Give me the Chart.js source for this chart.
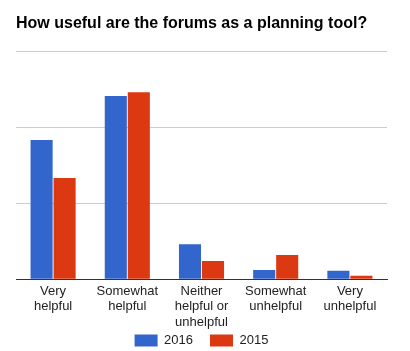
<!DOCTYPE html>
<html>
<head>
<meta charset="utf-8">
<script src="https://cdn.jsdelivr.net/npm/chart.js@4"></script>
<style>
html,body{margin:0;padding:0;background:#fff;}
#wrap{width:410px;height:351px;}
</style>
</head>
<body>
<div id="wrap"><canvas id="c" width="410" height="351"></canvas></div>
<script>
const categories = [["Very","helpful"],["Somewhat","helpful"],["Neither","helpful or","unhelpful"],["Somewhat","unhelpful"],["Very","unhelpful"]];
const series2016 = [18.3, 24.1, 4.6, 1.2, 1.1];
const series2015 = [13.3, 24.6, 2.4, 3.2, 0.45];
const yTicks = [0, 10, 20, 30];

const compactLegend = {
  id: 'compactLegend',
  afterInit(chart) {
    const lg = chart.legend;
    if (!lg) return;
    const origFit = lg.fit.bind(lg);
    const origDraw = lg.draw.bind(lg);
    lg.fit = function () { origFit(); this.height = 17; };
    lg.draw = function () {
      const t = this.top;
      this.top = t - this.options.labels.padding;
      origDraw();
      this.top = t;
    };
  }
};

new Chart(document.getElementById('c'), {
  type: 'bar',
  data: {
    labels: categories,
    datasets: [
      {label: '2016', data: series2016, backgroundColor: '#3366cc', categoryPercentage: 0.62, barPercentage: 0.96},
      {label: '2015', data: series2015, backgroundColor: '#dc3912', categoryPercentage: 0.62, barPercentage: 0.96}
    ]
  },
  plugins: [compactLegend],
  options: {
    responsive: false,
    animation: false,
    devicePixelRatio: 1,
    layout: {padding: {left: 16, right: 23, top: 14, bottom: 0}},
    plugins: {
      title: {
        display: true,
        text: 'How useful are the forums as a planning tool?',
        align: 'start',
        color: '#000',
        font: {family: 'Arial, "Liberation Sans"', size: 16, weight: 'bold'},
        padding: {top: 0, bottom: 18}
      },
      legend: {
        display: true,
        position: 'bottom',
        labels: {
          boxWidth: 23, boxHeight: 12, padding: 17,
          color: '#222',
          font: {family: 'Arial, "Liberation Sans"', size: 13}
        }
      },
      tooltip: {enabled: false}
    },
    scales: {
      x: {
        grid: {display: false, drawTicks: false},
        border: {display: true, color: '#333', width: 1},
        ticks: {
          color: '#222',
          padding: 4,
          maxRotation: 0, autoSkip: false,
          font: {family: 'Arial, "Liberation Sans"', size: 13, lineHeight: 1.2}
        }
      },
      y: {
        min: 0, max: 30,
        afterBuildTicks: (axis) => { axis.ticks = yTicks.map(v => ({value: v})); },
        ticks: {display: false},
        grid: {color: '#cccccc', drawTicks: false},
        border: {display: false}
      }
    }
  }
});
</script>
</body>
</html>
